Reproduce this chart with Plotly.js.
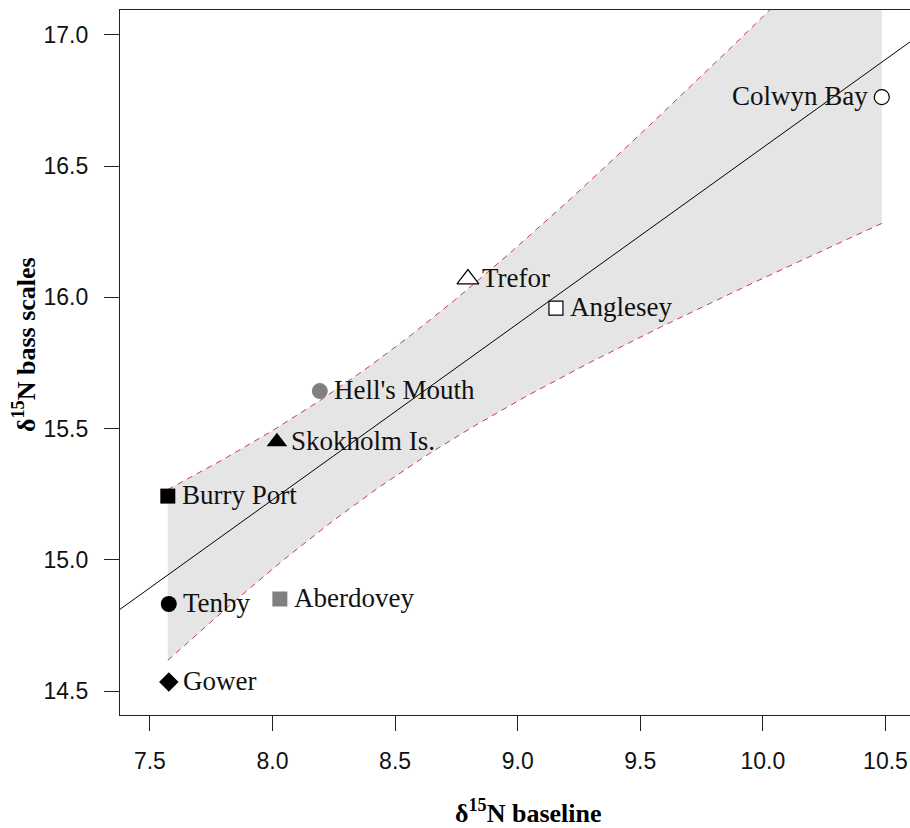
<!DOCTYPE html>
<html>
<head>
<meta charset="utf-8">
<script src="https://cdn.plot.ly/plotly-3.0.1.min.js"></script>
<style>html,body{margin:0;padding:0;background:#fff;}#chart{width:910px;height:828px;}</style>
</head>
<body>
<div id="chart"></div>
<script>
// ---- data ----
const sites    = ["Colwyn Bay", "Trefor", "Anglesey", "Hell's Mouth", "Skokholm Is.", "Burry Port", "Tenby", "Aberdovey", "Gower"];
const baseline = [10.485, 8.797, 9.156, 8.193, 8.018, 7.573, 7.577, 8.030, 7.577];
const scales   = [16.763, 16.070, 15.959, 15.643, 15.450, 15.243, 14.832, 14.851, 14.535];
const xTicks   = [7.5, 8.0, 8.5, 9.0, 9.5, 10.0, 10.5];
const yTicks   = [14.5, 15.0, 15.5, 16.0, 16.5, 17.0];

// ---- styles ----
const symbols  = ["circle", "triangle-up", "square", "circle", "triangle-up", "square", "circle", "square", "diamond"];
const fills    = ["#ffffff", "#ffffff", "#ffffff", "#808080", "#000000", "#000000", "#000000", "#808080", "#000000"];
const sizes    = [15, 19, 14, 16, 18, 15, 16, 15, 15];
const lineW    = [1.2, 1.2, 1.2, 0, 0, 0, 0, 0, 0];
const leftSide = [true, false, false, false, false, false, false, false, false];

const xRange = [7.378, 10.600];
const yRange = [14.409, 17.095];

// ---- linear fit and 95% confidence band (lm + predict, interval="confidence") ----
const n = baseline.length;
const mx = baseline.reduce((a, b) => a + b, 0) / n;
const my = scales.reduce((a, b) => a + b, 0) / n;
let sxx = 0, sxy = 0;
for (let i = 0; i < n; i++) { sxx += (baseline[i] - mx) ** 2; sxy += (baseline[i] - mx) * (scales[i] - my); }
const slope = sxy / sxx, icept = my - slope * mx;
let sse = 0;
for (let i = 0; i < n; i++) sse += (scales[i] - (icept + slope * baseline[i])) ** 2;
const s = Math.sqrt(sse / (n - 2));
const tq = 2.3646; // qt(0.975, df = 7)
const xmin = Math.min(...baseline), xmax = Math.max(...baseline);
const bx = [], lo = [], hi = [];
const steps = 120;
for (let k = 0; k <= steps; k++) {
  const x = xmin + (xmax - xmin) * k / steps;
  const yh = icept + slope * x;
  const se = s * Math.sqrt(1 / n + (x - mx) ** 2 / sxx);
  bx.push(x); lo.push(yh - tq * se); hi.push(yh + tq * se);
}

const bandColor = "#e5e5e5";
const dashColor = "rgb(200,60,78)";

const traces = [
  {x: bx, y: lo, mode: "lines", line: {width: 0, color: bandColor}, hoverinfo: "skip", showlegend: false},
  {x: bx, y: hi, mode: "lines", fill: "tonexty", fillcolor: bandColor, line: {width: 0, color: bandColor}, hoverinfo: "skip", showlegend: false},
  {x: bx, y: lo, mode: "lines", line: {width: 1, color: dashColor, dash: "6px,5px"}, showlegend: false},
  {x: bx, y: hi, mode: "lines", line: {width: 1, color: dashColor, dash: "6px,5px"}, showlegend: false},
  {x: xRange, y: xRange.map(x => icept + slope * x), mode: "lines", line: {width: 1, color: "#000"}, showlegend: false},
  {x: baseline, y: scales, mode: "markers", showlegend: false,
   marker: {symbol: symbols, color: fills, size: sizes, opacity: 1, line: {width: lineW, color: "#000"}}}
];

const labelFont = {family: "Liberation Serif, Times New Roman, serif", size: 27, color: "#111"};
const annotations = sites.map((t, i) => ({
  x: baseline[i], y: scales[i], xref: "x", yref: "y", text: t, showarrow: false,
  xanchor: leftSide[i] ? "right" : "left", yanchor: "middle",
  xshift: leftSide[i] ? -12 : 12, yshift: 1, font: labelFont
}));
annotations.push({
  xref: "paper", yref: "paper", x: (528 - 120) / 790, y: -(811 - 715) / 705, yanchor: "middle", xanchor: "center",
  text: "<b>δ<sup>15</sup>N baseline</b>", showarrow: false, borderpad: 0, borderwidth: 0,
  font: {family: "Liberation Serif, Times New Roman, serif", size: 26, color: "#000"}
});
annotations.push({
  xref: "paper", yref: "paper", x: (24 - 120) / 790, y: (715 - 345) / 705, xanchor: "center", yanchor: "middle",
  textangle: -90, text: "<b>δ<sup>15</sup>N bass scales</b>", showarrow: false,
  font: {family: "Liberation Serif, Times New Roman, serif", size: 26, color: "#000"}
});

const tickFont = {family: "Liberation Sans, Arial, sans-serif", size: 23, color: "#111"};
const layout = {
  width: 910, height: 828,
  margin: {l: 120, r: 0, t: 10, b: 113},
  paper_bgcolor: "#fff", plot_bgcolor: "#fff",
  xaxis: {range: xRange, tickvals: xTicks, ticktext: xTicks.map(v => v.toFixed(1)),
          ticks: "outside", ticklen: 15, tickwidth: 1, tickcolor: "#222",
          showline: true, mirror: true, linecolor: "#222", linewidth: 1.2,
          showgrid: false, zeroline: false, tickfont: tickFont, ticklabelstandoff: 10},
  yaxis: {range: yRange, tickvals: yTicks, ticktext: yTicks.map(v => v.toFixed(1)),
          ticks: "outside", ticklen: 15, tickwidth: 1, tickcolor: "#222",
          showline: true, mirror: false, linecolor: "#222", linewidth: 1.2,
          showgrid: false, zeroline: false, tickfont: tickFont, ticklabelstandoff: 11},
  annotations: annotations
};

Plotly.newPlot("chart", traces, layout, {displayModeBar: false, staticPlot: true});
</script>
</body>
</html>
